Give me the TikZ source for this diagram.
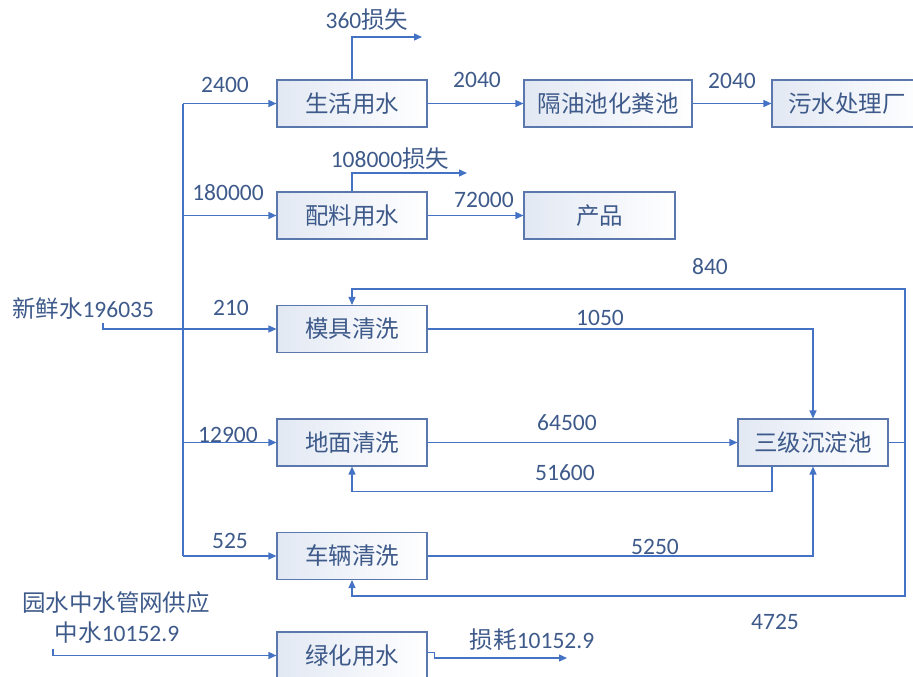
\documentclass[tikz,border=0pt]{standalone}
\usepackage{fontspec}
\setmainfont{Carlito}
\newfontfamily\cjk{Noto Sans CJK SC}
\usetikzlibrary{arrows.meta}
\definecolor{flowline}{HTML}{4472C4}
\definecolor{flowtext}{HTML}{3E5A8A}
\definecolor{boxline}{HTML}{5A78AD}
\definecolor{boxfill}{HTML}{E2E8F3}
\tikzset{
    unit/.style={rectangle, draw=boxline, line width=1.1pt, left color=boxfill, right color=white,
        minimum width=150pt, minimum height=47pt, inner sep=0pt, text=flowtext,
        font=\cjk\fontsize{23.5}{26}\selectfont},
    qty/.style={text=flowtext, inner sep=0pt, font=\fontsize{23.5}{26}\selectfont},
    pipe/.style={draw=flowline, line width=1.3pt},
    feed/.style={pipe, -{Triangle[length=8pt,width=7pt]}}
}
\begin{document}
\begin{tikzpicture}[x=1pt, y=-1pt]
    \useasboundingbox (0,0) rectangle (913,677);
    % units
    \node[unit] (sh) at (352,103.5) {生活用水};
    \node[unit, minimum width=168pt] (gy) at (608,103.5) {隔油池化粪池};
    \node[unit] (ws) at (847,103.5) {污水处理厂};
    \node[unit] (pl) at (352,215.5) {配料用水};
    \node[unit, minimum width=151pt] (cp) at (599.5,215.5) {产品};
    \node[unit] (mj) at (352,329) {模具清洗};
    \node[unit] (dm) at (352,442.5) {地面清洗};
    \node[unit] (sj) at (813,442.5) {三级沉淀池};
    \node[unit] (cl) at (352,556) {车辆清洗};
    \node[unit] (lh) at (352,655.5) {绿化用水};
    % free ends
    \coordinate (fw) at (103,323);
    \coordinate (tt) at (183,103.5);
    \coordinate (tb) at (183,556);
    \coordinate (loss1) at (422,37);
    \coordinate (loss2) at (467,173);
    \coordinate (rt) at (905,289);
    \coordinate (rb) at (905,596);
    \coordinate (gw) at (53,649);
    \coordinate (loss3) at (567,658);
    % fresh water
    \draw[pipe] (tt) -- (tb);
    \draw[feed] (fw) |- (mj.west);
    \draw[feed] (tt) -- (sh.west);
    \draw[feed] (tt |- pl.west) -- (pl.west);
    \draw[feed] (tt |- dm.west) -- (dm.west);
    \draw[feed] (tb) -- (cl.west);
    \draw[feed] (sh.north) |- (loss1);
    \draw[feed] (pl.north) |- (loss2);
    \draw[feed] (sh.east) -- (gy.west);
    \draw[feed] (gy.east) -- (ws.west);
    \draw[feed] (pl.east) -- (cp.west);
    % settling loop
    \draw[feed] (mj.east) -| (sj.north);
    \draw[feed] (dm.east) -- (sj.west);
    \draw[feed] ([xshift=-41pt]sj.south) -- ++(0,25) -| (dm.south);
    \draw[feed] (cl.east) -| (sj.south);
    \draw[feed] (sj.east) -| (rt) -| (mj.north);
    \draw[feed] (sj.east) -| (rb) -| (cl.south);
    % reclaimed water
    \draw[feed] (gw) |- (lh.west);
    \draw[feed] ([yshift=3pt]lh.east) -- ++(7,0) |- (loss3);
    % quantities
    \node[qty] (q360) at (367,20) {360\cjk 损失};
    \node[qty] (q2400) at (225,85) {2400};
    \node[qty] (q2040a) at (477,80) {2040};
    \node[qty] (q2040b) at (732,81) {2040};
    \node[qty] (q108) at (390,159) {108000\cjk 损失};
    \node[qty] (q180) at (228,193) {180000};
    \node[qty] (q720) at (484,200) {72000};
    \node[qty] (q840) at (710,267) {840};
    \node[qty] (qfw) at (83,309) {\cjk 新鲜水\rmfamily 196035};
    \node[qty] (q210) at (231,308) {210};
    \node[qty] (q1050) at (600,318) {1050};
    \node[qty] (q645) at (567,423) {64500};
    \node[qty] (q129) at (228,435) {12900};
    \node[qty] (q516) at (565,473) {51600};
    \node[qty] (q525) at (230,541) {525};
    \node[qty] (q5250) at (655,547) {5250};
    \node[qty] (qsrc) at (116,603) {\cjk 园水中水管网供应};
    \node[qty] (qzs) at (117,633) {\cjk 中水\rmfamily 10152.9};
    \node[qty] (q4725) at (775,622) {4725};
    \node[qty] (qsh) at (532,640) {\cjk 损耗\rmfamily 10152.9};
\end{tikzpicture}
\end{document}
